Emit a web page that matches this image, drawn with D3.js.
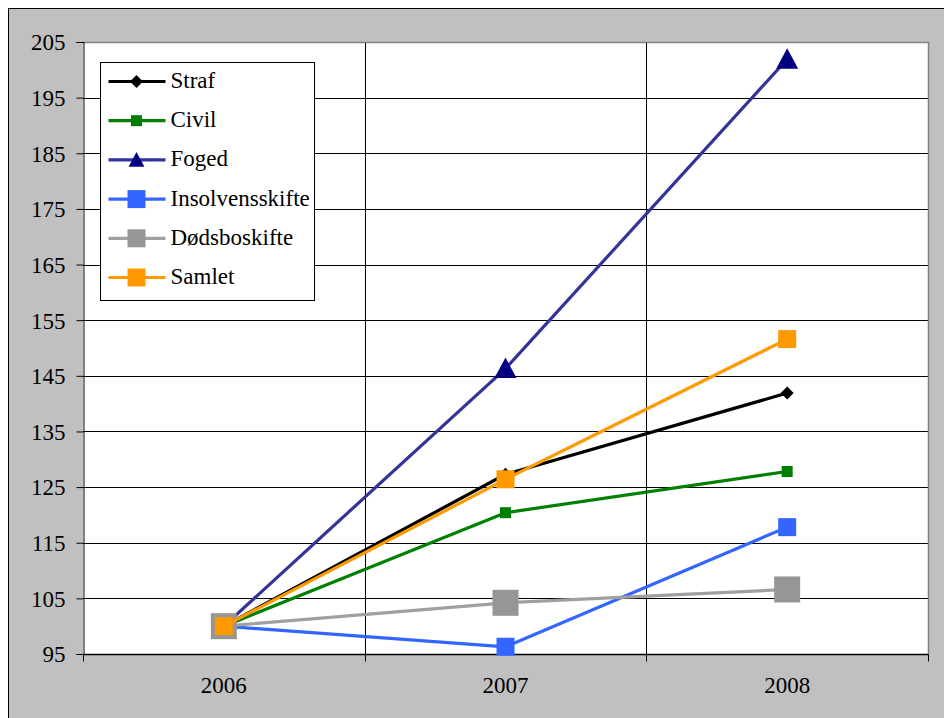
<!DOCTYPE html>
<html>
<head>
<meta charset='utf-8'>
<title>Indeks</title>
<style type='text/css'>
body{
  margin:0;
  background:#fff;
}
</style>
</head>
<body>
<div id='chart'></div>
<script src='https://d3js.org/d3.v7.min.js'></script>
<script type='text/javascript'>

// data (index, 2006 = 100)
var years = ['2006', '2007', '2008'];
var yTicks = [95, 105, 115, 125, 135, 145, 155, 165, 175, 185, 195, 205];
var seriesNames = ['Straf', 'Civil', 'Foged', 'Insolvensskifte', 'Dødsboskifte', 'Samlet'];
var straf = [100, 127.3, 141.9];
var civil = [100, 120.4, 127.8];
var foged = [100, 146.3, 201.9];
var insolvens = [100, 96.3, 117.8];
var doedsbo = [100, 104.2, 106.6];
var samlet = [100, 126.4, 151.6];

var FONT = "'Liberation Serif', 'DejaVu Serif', serif";

var W = 944, H = 718;
var svg = d3.select('#chart').append('svg')
    .attr('width', W)
    .attr('height', H);

// outer gray frame
svg.append('rect')
    .attr('x', 8.5).attr('y', 8.5)
    .attr('width', 945).attr('height', 720)
    .attr('fill', '#c0c0c0')
    .attr('stroke', '#000');

// plot box (avoid the name "top", it is window.top)
var pL = 83, pR = 928, pT = 42, pB = 654;

var x = d3.scaleBand().domain(years).range([pL, pR]).padding(0);
var y = d3.scaleLinear().domain([95, 205]).range([pB, pT]);

// plot area
svg.append('rect')
    .attr('x', pL).attr('y', pT)
    .attr('width', pR - pL).attr('height', pB - pT)
    .attr('fill', '#fff');

// horizontal gridlines
svg.append('g')
  .selectAll('line')
  .data(yTicks.slice(1, -1))
  .enter().append('line')
    .attr('x1', pL).attr('x2', pR)
    .attr('y1', function (d) { return Math.round(y(d)) + 0.5; })
    .attr('y2', function (d) { return Math.round(y(d)) + 0.5; })
    .attr('stroke', '#000');

// vertical gridlines on category borders
svg.append('g')
  .selectAll('line')
  .data(years.slice(1))
  .enter().append('line')
    .attr('x1', function (d) { return Math.round(x(d)) + 0.5; })
    .attr('x2', function (d) { return Math.round(x(d)) + 0.5; })
    .attr('y1', pT).attr('y2', pB)
    .attr('stroke', '#000');

// plot area border top and right
svg.append('path')
    .attr('d', 'M' + pL + ',' + (pT + 0.5) + 'H' + (pR + 0.5) + 'V' + pB)
    .attr('fill', 'none')
    .attr('stroke', '#808080')
    .attr('stroke-width', 1.5);

// y axis
var yAxis = svg.append('g')
    .attr('transform', 'translate(' + (pL + 0.5) + ',0)')
    .call(d3.axisLeft(y).tickValues(yTicks).tickSize(7).tickPadding(11).tickFormat(d3.format('d')));
yAxis.attr('font-family', null).attr('font-size', null);
yAxis.selectAll('path, line').attr('stroke', '#000');
yAxis.selectAll('text')
    .attr('fill', '#000')
    .style('font-family', FONT)
    .style('font-size', '23px')
    .attr('dy', '0.34em');

// x axis with ticks at category borders
var xAxis = svg.append('g')
    .attr('transform', 'translate(0,' + (pB + 0.5) + ')');
xAxis.append('line')
    .attr('x1', pL).attr('x2', pR + 0.5)
    .attr('stroke', '#000').attr('stroke-width', 1.5);
xAxis.selectAll('.tk')
  .data(years.concat(['end']))
  .enter().append('line')
    .attr('class', 'tk')
    .attr('x1', function (d) { return Math.round(d === 'end' ? pR : x(d)) + 0.5; })
    .attr('x2', function (d) { return Math.round(d === 'end' ? pR : x(d)) + 0.5; })
    .attr('y1', 0).attr('y2', 7)
    .attr('stroke', '#000');
xAxis.selectAll('.lbl')
  .data(years)
  .enter().append('text')
    .attr('class', 'lbl')
    .attr('x', function (d) { return x(d) + x.bandwidth() / 2; })
    .attr('y', 38)
    .attr('text-anchor', 'middle')
    .style('font-family', FONT)
    .style('font-size', '23px')
    .text(function (d) { return d; });

// series styles
var series = [
  {name: seriesNames[0], values: straf, line: '#000000', fill: '#000000', shape: 'diamond', size: 13, lsize: 13},
  {name: seriesNames[1], values: civil, line: '#008000', fill: '#008000', shape: 'square', size: 11, lsize: 11},
  {name: seriesNames[2], values: foged, line: '#333399', fill: '#000080', shape: 'triangle', size: 21, lsize: 15},
  {name: seriesNames[3], values: insolvens, line: '#3366ff', fill: '#3366ff', shape: 'square', size: 18, lsize: 18},
  {name: seriesNames[4], values: doedsbo, line: '#a0a0a0', fill: '#969696', shape: 'square', size: 26, lsize: 18},
  {name: seriesNames[5], values: samlet, line: '#ff9900', fill: '#ff9900', shape: 'square', size: 18, lsize: 18}
];

function markerPath(shape, s) {
  var h = s / 2;
  if (shape === 'diamond') return 'M0,' + (-h) + 'L' + h + ',0L0,' + h + 'L' + (-h) + ',0Z';
  if (shape === 'triangle') return 'M0,' + (-h * 1.05) + 'L' + (h * 1.05) + ',' + (h * 0.9) + 'L' + (-h * 1.05) + ',' + (h * 0.9) + 'Z';
  return 'M' + (-h) + ',' + (-h) + 'h' + s + 'v' + s + 'h' + (-s) + 'Z';
}

var line = d3.line()
    .x(function (d, i) { return x(years[i]) + x.bandwidth() / 2; })
    .y(function (d) { return y(d); });

var plot = svg.append('g');
series.forEach(function (s) {
  var g = plot.append('g');
  g.append('path')
      .attr('d', line(s.values))
      .attr('fill', 'none')
      .attr('stroke', s.line)
      .attr('stroke-width', 3.2);
  g.selectAll('path.m')
    .data(s.values)
    .enter().append('path')
      .attr('class', 'm')
      .attr('transform', function (d, i) {
        return 'translate(' + (x(years[i]) + x.bandwidth() / 2) + ',' + y(d) + ')';
      })
      .attr('d', markerPath(s.shape, s.size))
      .attr('fill', s.fill);
});

// legend
var lg = svg.append('g').attr('transform', 'translate(100.5,62.5)');
lg.append('rect')
    .attr('width', 214).attr('height', 238)
    .attr('fill', '#fff')
    .attr('stroke', '#000');
var items = lg.selectAll('g.item')
  .data(series)
  .enter().append('g')
    .attr('class', 'item')
    .attr('transform', function (d, i) { return 'translate(0,' + (19 + i * 39.2) + ')'; });
items.append('line')
    .attr('x1', 8).attr('x2', 65)
    .attr('stroke', function (d) { return d.line; })
    .attr('stroke-width', 3.2);
items.append('path')
    .attr('transform', 'translate(36,0)')
    .attr('d', function (d) { return markerPath(d.shape, d.lsize); })
    .attr('fill', function (d) { return d.fill; });
items.append('text')
    .attr('x', 70)
    .attr('y', 6.5)
    .style('font-family', FONT)
    .style('font-size', '23px')
    .text(function (d) { return d.name; });

</script>
</body>
</html>
